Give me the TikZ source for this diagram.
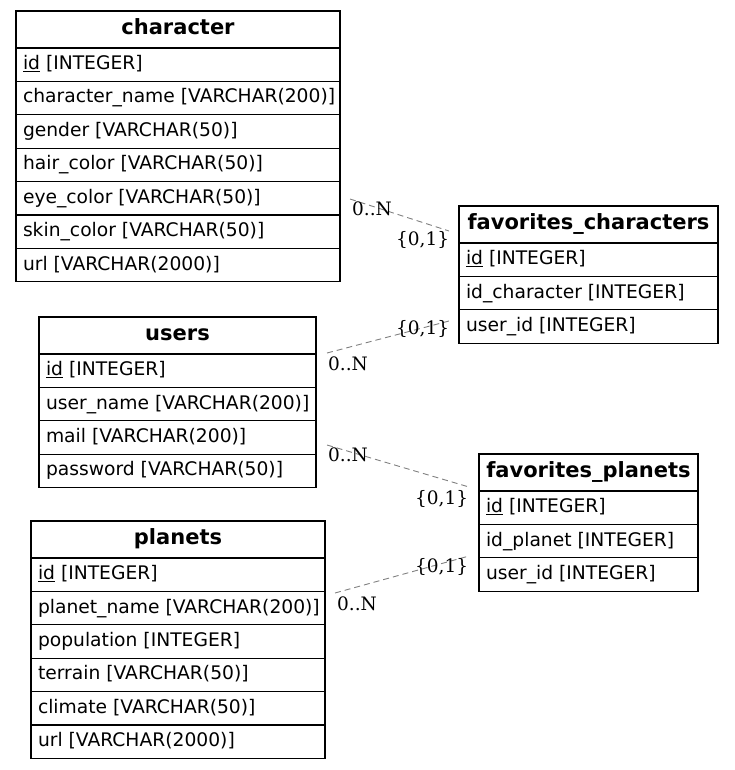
\documentclass[tikz,border=0pt]{standalone}
\usepackage{fontspec}
\setsansfont{DejaVu Sans}
\newfontfamily\cardfont{DejaVu Serif}
\usetikzlibrary{positioning}

% one table: name, x, y, inner text width, title, columns
\newcommand{\ertable}[6]{%
  \node[tabhead] (#1) at (#2,#3) {\makebox[#4pt][c]{#5}};
  \foreach \col [count=\i] in {#6}
    \node[tabrow] (#1-\i) at (#2,{#3+37+33.4*(\i-1)}) {\makebox[#4pt][l]{\col}};
}

\begin{document}
\begin{tikzpicture}[x=1pt,y=-1pt,
    tabhead/.style={draw,line width=1.2pt,anchor=north west,inner xsep=7pt,inner ysep=0pt,outer sep=0pt,
      text height=23.5pt,text depth=13.5pt,font=\sffamily\fontsize{21}{25}\selectfont\bfseries},
    tabrow/.style={draw,line width=1.2pt,anchor=north west,inner xsep=7pt,inner ysep=0pt,outer sep=0pt,
      text height=21.6pt,text depth=11.8pt,font=\sffamily\fontsize{18.7}{22}\selectfont},
    rel/.style={gray,line width=0.9pt,dash pattern=on 6pt off 4pt},
    card/.style={anchor=base west,inner sep=0pt,font=\cardfont\fontsize{18.5}{22}\selectfont}]
  \useasboundingbox (0,0) rectangle (735,770);

  \ertable{character}{16}{11}{310}{character}{%
    {\underline{id} [INTEGER]},{character\_name [VARCHAR(200)]},{gender [VARCHAR(50)]},
    {hair\_color [VARCHAR(50)]},{eye\_color [VARCHAR(50)]},{skin\_color [VARCHAR(50)]},
    {url [VARCHAR(2000)]}}
  \ertable{favchar}{459}{206}{245}{favorites\_characters}{%
    {\underline{id} [INTEGER]},{id\_character [INTEGER]},{user\_id [INTEGER]}}
  \ertable{users}{39}{317}{263}{users}{%
    {\underline{id} [INTEGER]},{user\_name [VARCHAR(200)]},{mail [VARCHAR(200)]},
    {password [VARCHAR(50)]}}
  \ertable{favplan}{479}{454}{205}{favorites\_planets}{%
    {\underline{id} [INTEGER]},{id\_planet [INTEGER]},{user\_id [INTEGER]}}
  \ertable{planets}{31}{521}{280}{planets}{%
    {\underline{id} [INTEGER]},{planet\_name [VARCHAR(200)]},{population [INTEGER]},
    {terrain [VARCHAR(50)]},{climate [VARCHAR(50)]},{url [VARCHAR(2000)]}}

  % relation ends
  \coordinate (chr-out) at (350,199);
  \coordinate (fc-in1) at (449,231);
  \coordinate (usr-out1) at (327,353);
  \coordinate (fc-in2) at (449,321);
  \coordinate (usr-out2) at (327,445);
  \coordinate (fp-in1) at (469,487);
  \coordinate (pl-out) at (335,593);
  \coordinate (fp-in2) at (469,556);

  \draw[rel] (chr-out) -- (fc-in1);
  \draw[rel] (usr-out1) -- (fc-in2);
  \draw[rel] (usr-out2) -- (fp-in1);
  \draw[rel] (pl-out) -- (fp-in2);

  % cardinalities
  \node[card] (c1a) at (352,215) {0..N};
  \node[card] (c1b) at (396,245) {\{0,1\}};
  \node[card] (c2a) at (328,370) {0..N};
  \node[card] (c2b) at (396,334) {\{0,1\}};
  \node[card] (c3a) at (328,461) {0..N};
  \node[card] (c3b) at (415,504) {\{0,1\}};
  \node[card] (c4a) at (337,610) {0..N};
  \node[card] (c4b) at (415,572) {\{0,1\}};
\end{tikzpicture}
\end{document}
